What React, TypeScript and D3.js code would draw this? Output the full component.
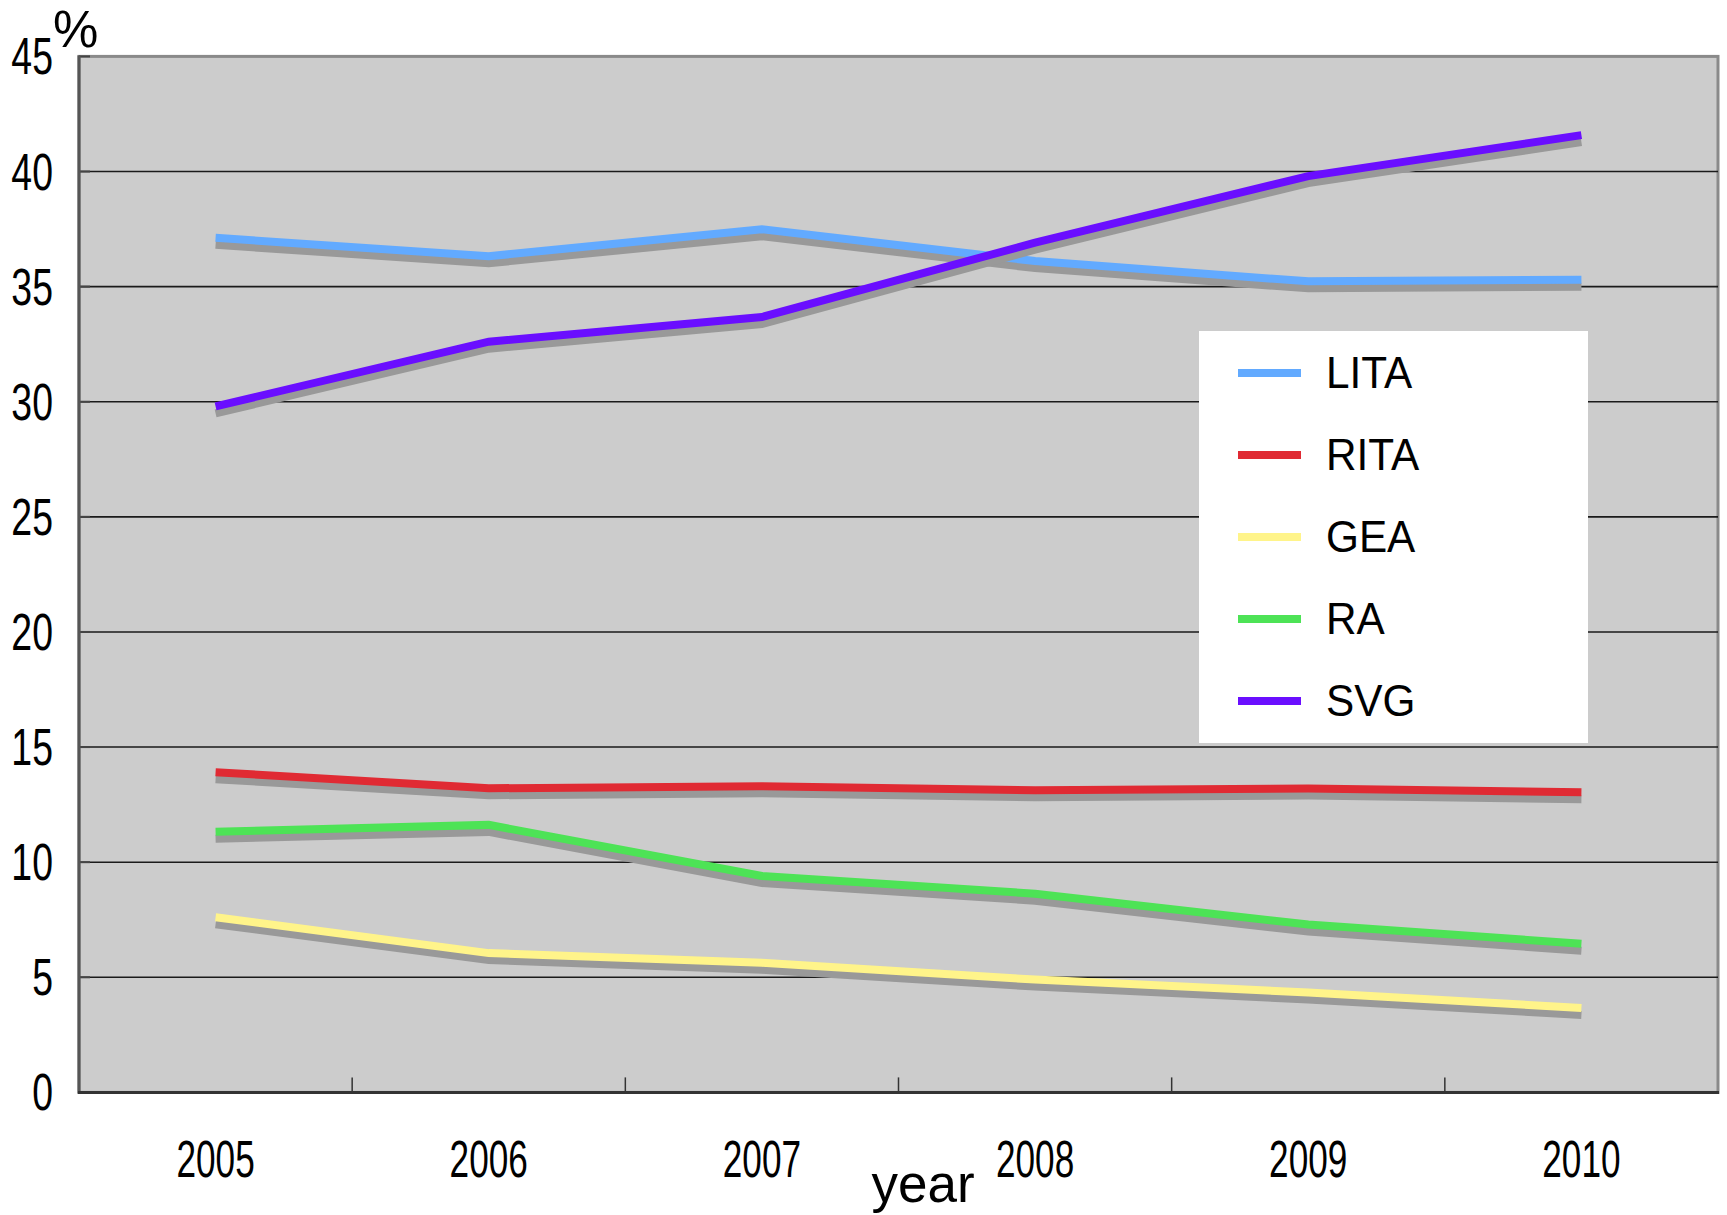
import React from "react";
import * as d3 from "d3";

const years = ["2005", "2006", "2007", "2008", "2009", "2010"];
const seriesNames = ["LITA", "RITA", "GEA", "RA", "SVG"];
const seriesColors = ["#62aaff", "#e02a33", "#fff48a", "#4de356", "#6a0eff"];
const LITA = [37.12, 36.32, 37.49, 36.11, 35.23, 35.3];
const RITA = [13.91, 13.21, 13.3, 13.12, 13.2, 13.04];
const GEA = [7.61, 6.05, 5.63, 4.9, 4.34, 3.67];
const RA = [11.32, 11.62, 9.4, 8.63, 7.29, 6.46];
const SVG = [29.8, 32.61, 33.68, 36.91, 39.8, 41.58];
const seriesValues = [LITA, RITA, GEA, RA, SVG];
const yTicks = [0, 5, 10, 15, 20, 25, 30, 35, 40, 45];

const W = 1727;
const H = 1215;
const plot = { left: 79, right: 1718, top: 56.4, bottom: 1092.4 };

export default function App() {
  const x = d3.scaleBand<string>().domain(years).range([plot.left, plot.right]).padding(0);
  const xc = (yr: string) => (x(yr) as number) + x.bandwidth() / 2;
  const y = d3.scaleLinear().domain([0, 45]).range([plot.bottom, plot.top]);
  const line = (vals: number[], dy: number) =>
    d3
      .line<number>()
      .x((_, i) => xc(years[i]))
      .y((v) => y(v) + dy)(vals) as string;

  const legendRow = d3.scalePoint<string>().domain(seriesNames).range([373, 701]);
  const font = "'Liberation Sans', Arial, sans-serif";

  return (
    <svg
      width={W}
      height={H}
      viewBox={`0 0 ${W} ${H}`}
      style={{ position: "absolute", left: 0, top: 0, display: "block", background: "#fff" }}
    >
      <rect x={0} y={0} width={W} height={H} fill="#fff" />
      {/* plot background */}
      <rect
        x={plot.left}
        y={plot.top}
        width={plot.right - plot.left}
        height={plot.bottom - plot.top}
        fill="#cccccc"
        stroke="#8a8a8a"
        strokeWidth={3}
      />
      {/* gridlines */}
      {yTicks
        .filter((t) => t > 0 && t < 45)
        .map((t) => (
          <line key={"g" + t} x1={plot.left} x2={plot.right} y1={y(t)} y2={y(t)} stroke="#1a1a1a" strokeWidth={1.6} />
        ))}
      {/* y ticks inward */}
      {yTicks.map((t) => (
        <line key={"yt" + t} x1={plot.left} x2={plot.left + 11} y1={y(t)} y2={y(t)} stroke="#444" strokeWidth={2} />
      ))}
      {/* x ticks at category boundaries */}
      {years.slice(1).map((yr) => (
        <line
          key={"xt" + yr}
          x1={x(yr) as number}
          x2={x(yr) as number}
          y1={plot.bottom}
          y2={plot.bottom - 15}
          stroke="#333"
          strokeWidth={1.5}
        />
      ))}
      {/* axes */}
      <line x1={plot.left} x2={plot.left} y1={plot.top - 1} y2={plot.bottom + 1} stroke="#555" strokeWidth={3} />
      <line x1={plot.left - 1} x2={plot.right + 1} y1={plot.bottom} y2={plot.bottom} stroke="#333" strokeWidth={3} />

      {/* series: shadow then line */}
      {seriesValues.map((vals, i) => (
        <g key={seriesNames[i]}>
          <path d={line(vals, 7)} fill="none" stroke="#999999" strokeWidth={8} strokeLinejoin="miter" />
          <path d={line(vals, 0)} fill="none" stroke={seriesColors[i]} strokeWidth={8} strokeLinejoin="miter" />
        </g>
      ))}

      {/* y tick labels */}
      {yTicks.map((t) => (
        <text
          key={"yl" + t}
          transform={`translate(53,${y(t) + 18}) scale(0.72,1)`}
          textAnchor="end"
          fontFamily={font}
          fontSize={52}
          fill="#000"
        >
          {t}
        </text>
      ))}
      <text x={53} y={47} fontFamily={font} fontSize={51} fill="#000">
        %
      </text>

      {/* x tick labels */}
      {years.map((yr) => (
        <text
          key={"xl" + yr}
          transform={`translate(${xc(yr)},1176.7) scale(0.69,1)`}
          textAnchor="middle"
          fontFamily={font}
          fontSize={51}
          fill="#000"
        >
          {yr}
        </text>
      ))}
      <text x={923} y={1202} textAnchor="middle" fontFamily={font} fontSize={53} fill="#000">
        year
      </text>

      {/* legend */}
      <rect x={1199} y={331} width={389} height={412} fill="#ffffff" />
      {seriesNames.map((name, i) => {
        const cy = legendRow(name) as number;
        return (
          <g key={"lg" + name}>
            <line x1={1238} x2={1301} y1={cy} y2={cy} stroke={seriesColors[i]} strokeWidth={8} />
            <text
              transform={`translate(1326,${cy + 15}) scale(0.94,1)`}
              fontFamily={font}
              fontSize={45}
              fill="#000"
            >
              {name}
            </text>
          </g>
        );
      })}
    </svg>
  );
}
